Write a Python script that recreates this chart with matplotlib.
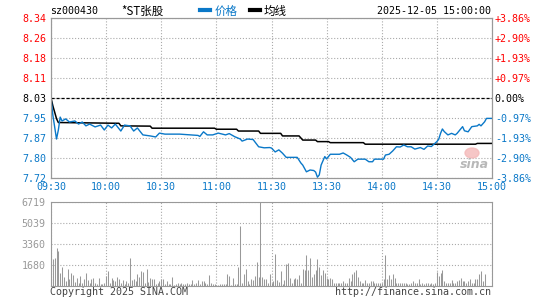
import matplotlib.pyplot as plt
from matplotlib.lines import Line2D
from matplotlib.patches import Ellipse

# fonte monoespacada para os numeros, CJK para o nome da acao
plt.rcParams['font.family'] = ['DejaVu Sans Mono', 'Noto Sans CJK SC']

# dados do grafico
codigo = 'sz000430'
nome = '*ST张股'
data_hora = '2025-12-05 15:00:00'
fechamento_anterior = 8.03
preco_min, preco_max = 7.72, 8.34
volume_max = 6719

rotulos_preco = ['8.34', '8.26', '8.18', '8.11', '8.03', '7.95', '7.87', '7.80', '7.72']
rotulos_pct = ['+3.86%', '+2.90%', '+1.93%', '+0.97%', '0.00%', '-0.97%', '-1.93%', '-2.90%', '-3.86%']
rotulos_hora = ['09:30', '10:00', '10:30', '11:00', '11:30', '13:30', '14:00', '14:30', '15:00']
rotulos_volume = ['6719', '5039', '3360', '1680']

# minutos desde a abertura (0..240) e preco
minutos_preco = [0, 1, 3, 4, 5, 6, 8, 10, 13, 15, 17, 19, 21, 24, 27, 29, 31, 33, 35, 38,
                 40, 43, 45, 47, 50, 54, 57, 59, 62, 70, 80, 81, 83, 85, 88, 91, 95, 97, 100, 103,
                 104, 107, 110, 113, 116, 119, 120, 122, 124, 126, 128, 131, 134, 136, 137, 139, 141, 143, 144, 145,
                 146, 147, 149, 150, 152, 157, 159, 161, 163, 165, 167, 171, 173, 175, 176, 181, 182, 184, 186, 188,
                 190, 192, 194, 196, 198, 201, 203, 205, 207, 210, 211, 212, 213, 214, 216, 218, 220, 221, 224, 225,
                 227, 229, 232, 233, 234, 236, 237, 240]
precos = [8.030, 7.964, 7.871, 7.906, 7.956, 7.941, 7.949, 7.937, 7.941, 7.929, 7.937, 7.922, 7.929, 7.918, 7.925, 7.906, 7.925, 7.914, 7.929, 7.902,
          7.925, 7.922, 7.902, 7.914, 7.887, 7.883, 7.879, 7.894, 7.890, 7.890, 7.885, 7.881, 7.899, 7.887, 7.887, 7.894, 7.887, 7.892, 7.880, 7.871,
          7.863, 7.871, 7.869, 7.841, 7.837, 7.838, 7.836, 7.821, 7.829, 7.816, 7.800, 7.800, 7.800, 7.778, 7.770, 7.744, 7.751, 7.749, 7.743, 7.723,
          7.732, 7.770, 7.803, 7.794, 7.812, 7.812, 7.817, 7.809, 7.800, 7.783, 7.793, 7.793, 7.783, 7.783, 7.793, 7.793, 7.809, 7.812, 7.825, 7.841,
          7.840, 7.848, 7.841, 7.841, 7.832, 7.838, 7.831, 7.844, 7.842, 7.861, 7.870, 7.893, 7.910, 7.900, 7.887, 7.893, 7.887, 7.893, 7.919, 7.903,
          7.899, 7.919, 7.922, 7.928, 7.922, 7.938, 7.951, 7.951]

# linha media
minutos_media = [0, 1, 2, 3, 4, 37, 38, 54, 55, 89, 90, 101, 102, 113, 114, 125, 126, 135, 137, 144,
                 145, 151, 152, 170, 171, 231, 232, 240]
media = [8.030, 8.000, 7.975, 7.950, 7.935, 7.932, 7.922, 7.921, 7.913, 7.913, 7.909, 7.909, 7.902, 7.902, 7.893, 7.893, 7.883, 7.883, 7.867, 7.867,
         7.861, 7.861, 7.857, 7.857, 7.851, 7.851, 7.854, 7.854]

# volume por minuto (241 valores)
volume = [484, 2098, 2206, 3013, 2744, 968, 1453, 646, 323, 1291, 484, 968, 807, 269, 592, 215, 726, 215, 484, 968,
          404, 215, 484, 565, 215, 120, 565, 135, 135, 215, 726, 1130, 215, 565, 404, 323, 646, 484, 215, 404,
          135, 323, 215, 2179, 404, 484, 323, 915, 646, 1130, 1076, 215, 1291, 300, 565, 484, 484, 135, 215, 323,
          484, 484, 81, 323, 150, 135, 646, 54, 135, 215, 135, 161, 135, 120, 161, 81, 135, 404, 135, 215,
          404, 135, 323, 323, 215, 81, 807, 215, 81, 81, 60, 54, 81, 135, 81, 81, 888, 726, 54, 592,
          81, 135, 1453, 4761, 215, 888, 1291, 323, 81, 484, 404, 726, 1883, 646, 6719, 646, 484, 484, 215, 888,
          215, 323, 2500, 404, 269, 1130, 135, 404, 1695, 1775, 592, 215, 484, 592, 538, 807, 215, 1291, 1210, 2420,
          1210, 2179, 646, 888, 1210, 2098, 1480, 807, 1210, 968, 592, 538, 592, 484, 161, 215, 161, 161, 215, 323,
          215, 161, 592, 323, 888, 1076, 1210, 646, 323, 215, 161, 404, 161, 215, 323, 323, 215, 215, 161, 161,
          215, 484, 2420, 484, 807, 484, 888, 592, 161, 215, 215, 161, 215, 161, 135, 135, 215, 323, 161, 161,
          484, 135, 161, 81, 215, 161, 81, 161, 81, 161, 1076, 726, 968, 1210, 323, 215, 215, 161, 404, 161,
          161, 323, 404, 592, 323, 323, 161, 323, 484, 215, 215, 484, 484, 888, 1130, 323, 888, 0, 0, 0, 0]

azul = '#0a78c8'
vermelho = '#ff0000'
cinza = '#999999'

fig = plt.figure(figsize=(5.45, 3.0), dpi=100)
W, H = 545.0, 300.0


def pos(x, y):
    # converte pixels (origem no topo) para fracao da figura
    return x / W, 1 - y / H


# painel de preco
ax1 = fig.add_axes([51 / W, 122 / H, 441 / W, 160 / H])
niveis = [preco_max - i * (preco_max - preco_min) / 8 for i in range(9)]
ax1.set_xlim(0, 240)
ax1.set_ylim(preco_min, preco_max)
ax1.set_xticks(range(0, 241, 30))
ax1.set_xticklabels(rotulos_hora, color=azul, fontsize=7.2)
ax1.set_yticks(niveis)
ax1.set_yticklabels(rotulos_preco, fontsize=7.2)
cores = [vermelho] * 4 + ['black'] + [azul] * 4
for t, c in zip(ax1.get_yticklabels(), cores):
    t.set_color(c)
ax1.tick_params(length=0, pad=3)
ax1.grid(True, linestyle=':', color='#aaaaaa', linewidth=0.8)
ax1.axhline(fechamento_anterior, color='black', linestyle=(0, (2.5, 1.5)), linewidth=0.9, zorder=2)
ax1.plot(minutos_media, media, color='black', linewidth=1.1, zorder=3)
ax1.plot(minutos_preco, precos, color=azul, linewidth=1.0, zorder=4)
for s in ax1.spines.values():
    s.set_color(cinza)

ax1r = ax1.twinx()
ax1r.set_ylim(preco_min, preco_max)
ax1r.set_yticks(niveis)
ax1r.set_yticklabels(rotulos_pct, fontsize=7.2)
for t, c in zip(ax1r.get_yticklabels(), cores):
    t.set_color(c)
ax1r.tick_params(length=0, pad=2)
for s in ax1r.spines.values():
    s.set_color(cinza)

# painel de volume
ax2 = fig.add_axes([51 / W, 14.5 / H, 441 / W, 83.5 / H])
ax2.vlines(range(len(volume)), 0, volume, color=cinza, linewidth=0.75)
ax2.set_xlim(0, 240)
ax2.set_ylim(0, volume_max)
ax2.set_xticks(range(0, 241, 30))
ax2.set_xticklabels([])
ax2.set_yticks([volume_max * (4 - i) / 4 for i in range(4)])
ax2.set_yticklabels(rotulos_volume, color=cinza, fontsize=7.2)
ax2.tick_params(length=0, pad=4)
ax2.grid(True, linestyle=':', color='#aaaaaa', linewidth=0.8)
for s in ax2.spines.values():
    s.set_color(cinza)

# cabecalho
fig.text(*pos(50, 11), codigo, fontsize=7.2, va='center', ha='left')
fig.text(*pos(121, 11), nome, fontsize=8.3, va='center', ha='left',
         family=['Noto Sans CJK SC', 'DejaVu Sans'])
fig.add_artist(Line2D([200 / W, 210 / W], [1 - 10 / H] * 2, color=azul, linewidth=3))
fig.text(*pos(215, 11), '价格', fontsize=8.3, color=azul, va='center', ha='left',
         family=['Noto Sans CJK SC', 'DejaVu Sans'])
fig.add_artist(Line2D([250 / W, 260 / W], [1 - 10 / H] * 2, color='black', linewidth=3))
fig.text(*pos(264, 11), '均线', fontsize=8.3, color='black', va='center', ha='left',
         family=['Noto Sans CJK SC', 'DejaVu Sans'])
fig.text(*pos(491, 11), data_hora, fontsize=7.2, va='center', ha='right')

# rodape
fig.text(*pos(50, 292), 'Copyright 2025 SINA.COM', fontsize=7.2, color='#444444', va='center', ha='left')
fig.text(*pos(491, 292), 'http://finance.sina.com.cn', fontsize=7.2, color='#444444', va='center', ha='right')

# marca d'agua
fig.add_artist(Ellipse(pos(472, 153), 14 / W, 10 / H, color='#f4b8b8', alpha=0.8))
fig.text(*pos(474, 164), 'sina', fontsize=9, color='#b8b8b8', style='italic', weight='bold',
         va='center', ha='center', family='DejaVu Sans')

fig.savefig('out.png', dpi=100)
